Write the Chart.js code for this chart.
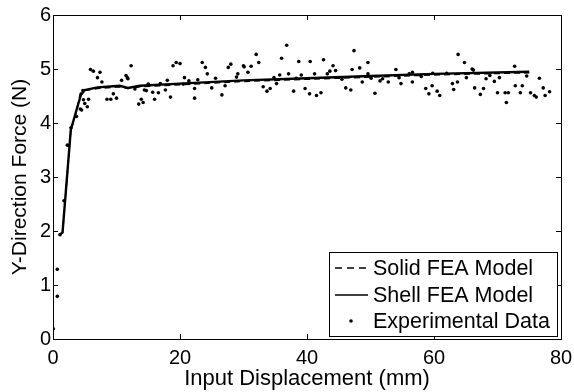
<!DOCTYPE html>
<html>
<head>
<meta charset="utf-8">
<script src="https://cdn.jsdelivr.net/npm/chart.js@4/dist/chart.umd.min.js"></script>
<style>
  body { margin: 0; background: #fff; }
  #wrap { width: 574px; height: 392px; }
</style>
</head>
<body>
<div id="wrap"><canvas id="c" width="574" height="392"></canvas></div>
<script>
const expX = [0.05,0.68,0.68,1.1,1.73,2.26,2.83,3.7,4.3,4.5,
  4.7,4.8,5.0,5.4,5.6,5.9,6.35,7.0,7.4,7.7,
  8.5,9.1,9.5,10.0,10.8,11.5,11.7,11.8,12.3,12.9,
  13.5,13.9,14.2,14.4,14.7,15.0,15.7,16.0,16.6,16.9,
  17.7,18.0,18.5,18.9,19.4,20.0,20.5,20.7,21.4,22.3,
  22.3,22.8,23.5,24.0,24.3,25.0,25.6,26.6,27.1,27.6,
  28.0,28.9,29.1,30.0,30.1,30.7,31.2,32.0,32.4,33.1,
  33.7,34.2,34.8,35.2,35.7,36.0,36.8,37.1,37.9,38.3,
  38.7,39.1,39.7,40.4,40.5,41.2,41.5,42.2,42.6,43.2,
  43.6,44.1,44.5,45.5,46.1,46.9,47.1,47.4,48.3,48.7,
  49.6,49.6,50.1,50.7,51.5,51.9,52.8,54.0,54.5,54.8,
  56.1,56.6,56.6,58.0,58.7,59.2,59.7,59.8,60.5,60.9,
  62.0,62.9,63.1,63.7,63.8,64.8,65.1,66.0,66.2,66.4,
  67.3,67.8,68.2,68.8,69.5,70.0,70.3,71.2,71.4,71.7,
  72.7,72.8,73.6,73.9,74.6,75.2,75.8,76.1,76.6,77.2,
  77.5,78.2];
const expY = [0.19,1.29,0.79,1.93,2.56,3.59,3.91,4.12,4.26,4.24,
  4.60,4.43,4.36,4.30,4.44,4.99,4.96,4.84,4.94,4.76,
  4.44,4.44,4.54,4.46,4.79,4.88,4.84,4.82,5.06,4.63,
  4.35,4.44,4.38,4.61,4.60,4.72,4.57,4.44,4.56,4.73,
  4.61,4.79,4.48,5.06,5.12,5.10,4.72,4.84,4.78,4.64,
  4.46,4.80,5.12,5.03,4.91,4.65,4.83,4.52,4.69,5.03,
  5.09,4.85,4.91,5.06,5.04,4.94,5.05,5.27,5.12,4.67,
  4.59,4.64,4.84,4.73,4.89,5.20,5.44,4.91,4.59,4.83,
  5.14,4.89,4.64,4.54,5.14,4.91,4.51,4.56,5.17,4.91,
  4.96,5.06,4.97,4.81,4.65,4.61,4.99,5.34,5.02,4.76,
  5.12,4.91,4.83,4.55,4.78,4.82,4.76,4.99,4.84,4.73,
  4.91,4.94,4.76,4.86,4.64,4.54,4.69,4.92,4.59,4.51,
  4.92,4.73,4.62,4.76,5.27,5.12,4.84,5.00,4.98,4.65,
  4.53,4.64,4.82,4.88,4.77,4.56,4.84,4.56,4.38,4.56,
  5.05,4.69,4.56,4.69,4.87,4.56,4.51,4.48,4.83,4.65,
  4.51,4.58];

// FEA curves
const shellX = [1.0, 1.5, 2.0, 2.8, 3.7, 4.4, 5.0, 7.0, 10.5, 11.8, 13.7, 20, 30, 40, 50, 60, 75];
const shellY = [1.93, 1.97, 2.70, 3.87, 4.24, 4.52, 4.61, 4.66, 4.69, 4.65, 4.69, 4.73, 4.79, 4.83, 4.87, 4.91, 4.95];
const solidX = [1.0, 1.5, 2.0, 2.8, 3.7, 4.3, 5.0, 7.0, 10.5, 11.8, 13.7, 20, 30, 40, 50, 60, 75];
const solidY = [1.93, 1.97, 2.68, 3.85, 4.22, 4.55, 4.60, 4.64, 4.67, 4.64, 4.67, 4.71, 4.77, 4.81, 4.85, 4.89, 4.93];

const xTicks = [0, 20, 40, 60, 80];
const yTicks = [0, 1, 2, 3, 4, 5, 6];
const legendLabels = ['Solid FEA Model', 'Shell FEA Model', 'Experimental Data'];

const pts = (xs, ys) => xs.map((x, i) => ({ x, y: ys[i] }));
const FONT = '"Liberation Sans", Arial, Helvetica, sans-serif';

// box, inward ticks and legend, MATLAB style
const frame = {
  id: 'frame',
  afterDraw(chart) {
    const { ctx, chartArea: a, scales: { x, y } } = chart;
    ctx.save();
    ctx.strokeStyle = '#000';
    ctx.lineWidth = 1;
    const seg = (x1, y1, x2, y2) => { ctx.beginPath(); ctx.moveTo(x1, y1); ctx.lineTo(x2, y2); ctx.stroke(); };
    xTicks.forEach(v => {
      const px = Math.round(x.getPixelForValue(v)) + 0.5;
      seg(px, a.bottom, px, a.bottom - 5);
      seg(px, a.top, px, a.top + 5);
    });
    yTicks.forEach(v => {
      const py = Math.round(y.getPixelForValue(v)) + 0.5;
      seg(a.left, py, a.left + 5, py);
      seg(a.right, py, a.right - 5, py);
    });
    ctx.strokeRect(Math.round(a.left) + 0.5, Math.round(a.top) + 0.5, Math.round(a.width), Math.round(a.height));

    // legend
    const lx = 329, ly = 252, lw = 228, lh = 84;
    ctx.fillStyle = '#fff';
    ctx.fillRect(lx, ly, lw, lh);
    ctx.strokeRect(lx + 0.5, ly + 0.5, lw, lh);
    const rows = [268, 295, 321];
    ctx.lineWidth = 1.5;
    ctx.setLineDash([7, 5]);
    seg(335, rows[0], 368, rows[0]);
    ctx.setLineDash([]);
    seg(335, rows[1], 368, rows[1]);
    ctx.fillStyle = '#000';
    ctx.beginPath(); ctx.arc(351, rows[2], 1.8, 0, Math.PI * 2); ctx.fill();
    ctx.font = '21.5px ' + FONT;
    ctx.textBaseline = 'middle';
    legendLabels.forEach((t, i) => ctx.fillText(t, 373, rows[i] + 1));
    ctx.restore();
  }
};

new Chart(document.getElementById('c'), {
  type: 'scatter',
  data: {
    datasets: [
      {
        label: legendLabels[2],
        data: pts(expX, expY),
        pointRadius: 1.8,
        pointBackgroundColor: '#000',
        pointBorderWidth: 0,
        showLine: false
      },
      {
        label: legendLabels[0],
        data: pts(solidX, solidY),
        showLine: true,
        borderColor: '#000',
        borderWidth: 1.5,
        borderDash: [6, 4],
        pointRadius: 0,
        tension: 0
      },
      {
        label: legendLabels[1],
        data: pts(shellX, shellY),
        showLine: true,
        borderColor: '#000',
        borderWidth: 2.4,
        pointRadius: 0,
        tension: 0
      }
    ]
  },
  options: {
    responsive: false,
    animation: false,
    layout: { padding: { top: 15, right: 13, left: 0, bottom: 0 } },
    plugins: { legend: { display: false }, tooltip: { enabled: false } },
    scales: {
      x: {
        type: 'linear',
        min: 0, max: 80,
        afterBuildTicks: s => { s.ticks = xTicks.map(v => ({ value: v })); },
        afterFit: s => { s.height = 53; s.paddingLeft = 0; s.paddingRight = 0; },
        grid: { display: false, drawTicks: false },
        border: { display: false },
        ticks: { color: '#000', padding: 7, font: { family: FONT, size: 20 } },
        title: {
          display: true,
          text: 'Input Displacement (mm)',
          color: '#000',
          padding: { top: 0, bottom: 0 },
          font: { family: FONT, size: 22 }
        }
      },
      y: {
        min: 0, max: 6,
        afterBuildTicks: s => { s.ticks = yTicks.map(v => ({ value: v })); },
        afterFit: s => { s.width = 53; s.paddingTop = 0; s.paddingBottom = 0; },
        grid: { display: false, drawTicks: false },
        border: { display: false },
        ticks: { color: '#000', padding: 2, font: { family: FONT, size: 20 } },
        title: {
          display: true,
          text: 'Y-Direction Force (N)',
          color: '#000',
          padding: { top: 8, bottom: 0 },
          font: { family: FONT, size: 21 }
        }
      }
    }
  },
  plugins: [frame]
});
</script>
</body>
</html>
